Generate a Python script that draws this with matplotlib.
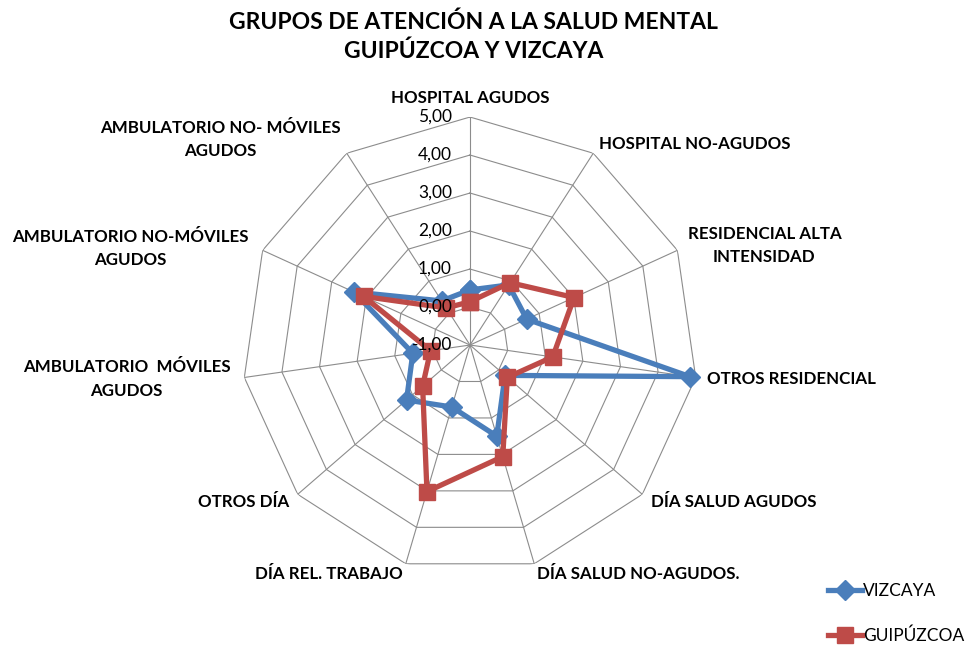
import numpy as np
import matplotlib
matplotlib.use("Agg")
import matplotlib.pyplot as plt

plt.rcParams['font.family'] = ['Lato', 'DejaVu Sans']

categories = [
    "HOSPITAL AGUDOS",
    "HOSPITAL NO-AGUDOS",
    "RESIDENCIAL ALTA\nINTENSIDAD",
    "OTROS RESIDENCIAL",
    "DÍA SALUD AGUDOS",
    "DÍA SALUD NO-AGUDOS.",
    "DÍA REL. TRABAJO",
    "OTROS DÍA",
    "AMBULATORIO  MÓVILES\nAGUDOS",
    "AMBULATORIO NO-MÓVILES\nAGUDOS",
    "AMBULATORIO NO- MÓVILES\nAGUDOS",
]
vizcaya = [0.45, 0.88, 0.64, 4.85, 0.22, 1.50, 0.70, 1.21, 0.52, 2.36, 0.38]
guipuzcoa = [0.14, 0.95, 2.01, 1.20, 0.30, 2.06, 3.02, 0.65, 0.05, 2.08, 0.16]
levels = [-1, 0, 1, 2, 3, 4, 5]

blue = '#4A7EBB'
red = '#BE4B48'
grid_col = '#8C8C8C'

# small label nudges (points), Excel placed a few labels off the plain radial spot
label_nudge = {8: (-2, 0), 9: (-3, -2), 10: (0, 3)}

n = len(categories)
angles = np.arange(n) * 2 * np.pi / n
closed = np.append(angles, angles[0])

fig = plt.figure(figsize=(9.73, 6.48), dpi=100)
ax = fig.add_axes([0.2487, 0.1157, 0.4687, 0.7037], projection='polar')
ax.set_theta_zero_location('N')
ax.set_theta_direction(-1)
ax.set_ylim(-1, 5)
ax.grid(False)
ax.spines['polar'].set_visible(False)
ax.set_xticks([])
ax.set_yticks([])
ax.patch.set_alpha(0)

# polygon grid and spokes
for lv in levels[1:]:
    ax.plot(closed, [lv] * (n + 1), color=grid_col, lw=0.8, zorder=1)
for a in angles:
    ax.plot([a, a], [-1, 5], color=grid_col, lw=0.8, zorder=1)

# radial tick labels
for lv in levels:
    ax.annotate(f"{lv:.2f}".replace('.', ','), xy=(0, lv), xytext=(-13, 0),
                textcoords='offset points', ha='right', va='center',
                fontsize=12.5, color='black', zorder=5)

# category labels
for i, (a, lab) in enumerate(zip(angles, categories)):
    s, c = np.sin(a), np.cos(a)
    if s > 0.1:
        ha = 'left'
    elif s < -0.1:
        ha = 'right'
    else:
        ha = 'center'
    va = 'bottom' if c > 0.95 else 'center'
    dx, dy = label_nudge.get(i, (0, 0))
    ax.annotate(lab, xy=(a, 5), xytext=(8 * s + dx, 8 * c + dy), textcoords='offset points',
                ha=ha, va=va, multialignment='center', fontsize=12.2,
                fontweight='bold', linespacing=1.55, annotation_clip=False)

ax.plot(closed, vizcaya + vizcaya[:1], color=blue, lw=3.8, marker='D',
        markersize=10, label='VIZCAYA', zorder=3, clip_on=False)
ax.plot(closed, guipuzcoa + guipuzcoa[:1], color=red, lw=3.8, marker='s',
        markersize=11, label='GUIPÚZCOA', zorder=4, clip_on=False)

fig.text(0.487, 0.982, "GRUPOS DE ATENCIÓN A LA SALUD MENTAL\nGUIPÚZCOA Y VIZCAYA",
         ha='center', va='top', fontsize=16.5, fontweight='bold', linespacing=1.4)

leg = fig.legend(loc='lower left', bbox_to_anchor=(0.838, -0.012), frameon=False,
                 fontsize=12.5, labelspacing=1.6, handlelength=2.0, handletextpad=0.05,
                 borderaxespad=0.3)

fig.savefig('out.png', dpi=100)
